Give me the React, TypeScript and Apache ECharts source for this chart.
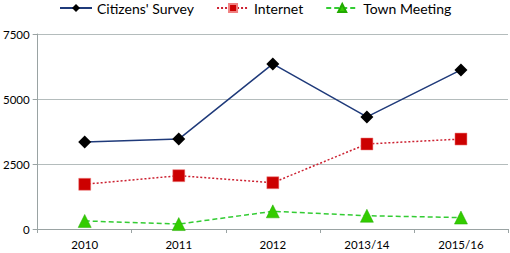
import React, { useEffect, useRef } from "react";
import * as echarts from "echarts";

const categories = ["2010", "2011", "2012", "2013/14", "2015/16"];
const citizensSurvey = [3350, 3460, 6350, 4310, 6120];
const internet = [1720, 2050, 1780, 3270, 3460];
const townMeeting = [310, 190, 680, 510, 440];
const yTicks = [0, 2500, 5000, 7500];

const FONT = "Lato";

export default function App() {
  const ref = useRef<HTMLDivElement>(null);
  useEffect(() => {
    if (!ref.current) return;
    const chart = echarts.init(ref.current, undefined, { renderer: "svg" });
    chart.setOption({
      animation: false,
      textStyle: { fontFamily: FONT },
      legend: {
        top: 1,
        left: 59,
        padding: 0,
        itemWidth: 32,
        itemHeight: 10,
        itemGap: 22,
        textStyle: { fontFamily: FONT, fontSize: 14, color: "#000" },
        data: ["Citizens' Survey", "Internet", "Town Meeting"],
      },
      grid: { left: 36, right: 2, top: 34, bottom: 24 },
      xAxis: {
        type: "category",
        data: categories,
        boundaryGap: true,
        axisLine: { lineStyle: { color: "#9aa3a3" } },
        axisTick: { show: true, length: 4, lineStyle: { color: "#9aa3a3" } },
        axisLabel: { color: "#000", fontSize: 11.5, fontFamily: FONT, margin: 9 },
      },
      yAxis: {
        type: "value",
        min: yTicks[0],
        max: yTicks[yTicks.length - 1],
        interval: 2500,
        axisLine: { show: true, lineStyle: { color: "#9aa3a3" } },
        axisTick: { show: true, length: 5, lineStyle: { color: "#9aa3a3" } },
        splitLine: { lineStyle: { color: "#b4bcbc" } },
        axisLabel: {
          color: "#000",
          fontSize: 11.5,
          fontFamily: FONT,
          margin: 8,
          formatter: (v: number) => String(v),
        },
      },
      series: [
        {
          name: "Citizens' Survey",
          type: "line",
          data: citizensSurvey,
          symbol: "diamond",
          symbolSize: 13,
          itemStyle: { color: "#000" },
          lineStyle: { color: "#1f3a7a", width: 1.5 },
        },
        {
          name: "Internet",
          type: "line",
          data: internet,
          symbol: "rect",
          symbolSize: 12,
          itemStyle: { color: "#cc0000", borderColor: "#f08080", borderWidth: 0.5 },
          lineStyle: { color: "#cc2030", width: 1.5, type: [2, 2] },
        },
        {
          name: "Town Meeting",
          type: "line",
          data: townMeeting,
          symbol: "triangle",
          symbolSize: 13,
          itemStyle: { color: "#33cc00", borderColor: "#22aa00", borderWidth: 0.5 },
          lineStyle: { color: "#33cc33", width: 1.5, type: [5, 3] },
        },
      ],
    });
    return () => chart.dispose();
  }, []);
  return <div ref={ref} style={{ width: 510, height: 253, position: "absolute", left: 0, top: 0 }} />;
}
